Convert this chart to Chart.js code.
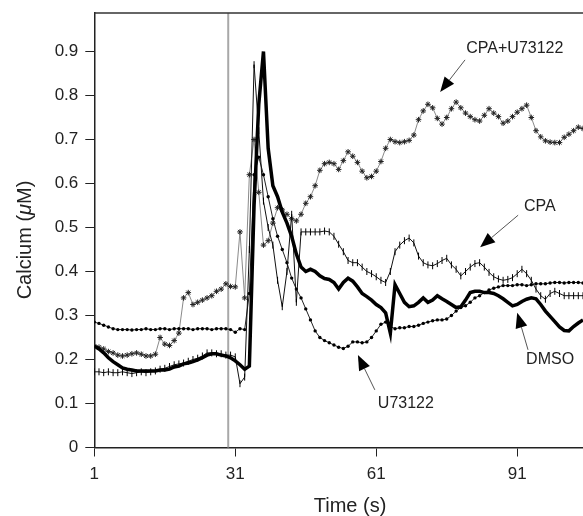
<!DOCTYPE html>
<html>
<head>
<meta charset="utf-8">
<script src="https://cdn.jsdelivr.net/npm/chart.js@4.4.1/dist/chart.umd.min.js"></script>
<style>
  html, body { margin: 0; padding: 0; background: #fff; }
  canvas { display: block; }
</style>
</head>
<body>
<canvas id="calciumChart" width="583" height="516"></canvas>
<script>
// time in seconds, one sample per second
const time = [
  1,2,3,4,5,6,7,8,9,10,11,12,13,14,15,16,17,18,19,20,
  21,22,23,24,25,26,27,28,29,30,31,32,33,34,35,36,37,38,39,40,
  41,42,43,44,45,46,47,48,49,50,51,52,53,54,55,56,57,58,59,60,
  61,62,63,64,65,66,67,68,69,70,71,72,73,74,75,76,77,78,79,80,
  81,82,83,84,85,86,87,88,89,90,91,92,93,94,95,96,97,98,99,100,
  101,102,103,104,105
];

// calcium, uM
const dmso = [
  0.231,0.224,0.215,0.204,0.195,0.188,0.181,0.178,0.176,0.174,
  0.174,0.174,0.174,0.174,0.176,0.176,0.178,0.183,0.185,0.19,
  0.192,0.195,0.199,0.204,0.21,0.213,0.213,0.21,0.208,0.204,
  0.197,0.188,0.178,0.185,0.55,0.78,0.90,0.68,0.595,0.57,
  0.535,0.51,0.48,0.44,0.41,0.40,0.405,0.40,0.39,0.384,
  0.382,0.375,0.36,0.375,0.385,0.378,0.365,0.35,0.343,0.335,
  0.325,0.318,0.306,0.26,0.37,0.35,0.33,0.32,0.322,0.33,
  0.34,0.33,0.335,0.345,0.338,0.332,0.325,0.318,0.32,0.335,
  0.352,0.355,0.355,0.352,0.352,0.35,0.345,0.338,0.33,0.322,
  0.325,0.332,0.337,0.34,0.338,0.325,0.31,0.298,0.286,0.274,
  0.266,0.265,0.275,0.283,0.29
];
const cpa = [
  0.172,0.172,0.17,0.172,0.17,0.17,0.172,0.17,0.168,0.17,
  0.172,0.17,0.172,0.174,0.178,0.18,0.184,0.188,0.19,0.192,
  0.196,0.2,0.203,0.208,0.215,0.215,0.213,0.213,0.21,0.21,
  0.206,0.145,0.16,0.45,0.87,0.72,0.56,0.50,0.46,0.38,
  0.32,0.40,0.53,0.33,0.49,0.49,0.49,0.49,0.49,0.492,
  0.49,0.48,0.462,0.445,0.425,0.42,0.42,0.41,0.40,0.395,
  0.388,0.38,0.375,0.40,0.445,0.46,0.47,0.476,0.465,0.435,
  0.42,0.415,0.413,0.418,0.425,0.43,0.415,0.405,0.39,0.40,
  0.41,0.418,0.42,0.41,0.398,0.388,0.383,0.38,0.382,0.386,
  0.395,0.405,0.395,0.38,0.36,0.345,0.337,0.35,0.355,0.35,
  0.345,0.345,0.345,0.345,0.345
];
const u73122 = [
  0.285,0.282,0.278,0.274,0.27,0.268,0.268,0.268,0.267,0.268,
  0.268,0.27,0.268,0.268,0.27,0.27,0.268,0.27,0.27,0.27,
  0.27,0.268,0.27,0.27,0.27,0.268,0.27,0.27,0.27,0.268,
  0.262,0.27,0.268,0.35,0.62,0.66,0.62,0.57,0.52,0.48,
  0.45,0.42,0.385,0.36,0.34,0.315,0.29,0.265,0.25,0.243,
  0.238,0.233,0.228,0.225,0.23,0.24,0.24,0.238,0.24,0.25,
  0.265,0.28,0.285,0.275,0.27,0.272,0.272,0.275,0.275,0.278,
  0.282,0.285,0.288,0.29,0.29,0.292,0.30,0.31,0.318,0.322,
  0.33,0.34,0.345,0.352,0.358,0.362,0.365,0.368,0.368,0.368,
  0.37,0.37,0.368,0.37,0.372,0.372,0.372,0.374,0.375,0.375,
  0.374,0.375,0.375,0.375,0.374
];
const cpaU73122 = [
  0.23,0.228,0.224,0.218,0.215,0.21,0.208,0.21,0.213,0.215,
  0.212,0.208,0.208,0.212,0.25,0.235,0.232,0.243,0.26,0.34,
  0.352,0.325,0.33,0.335,0.34,0.345,0.355,0.36,0.372,0.366,
  0.365,0.49,0.34,0.62,0.70,0.58,0.46,0.47,0.51,0.545,
  0.54,0.53,0.52,0.515,0.53,0.555,0.57,0.595,0.63,0.645,
  0.648,0.645,0.632,0.652,0.672,0.662,0.648,0.628,0.613,0.616,
  0.628,0.65,0.68,0.70,0.695,0.693,0.695,0.698,0.71,0.745,
  0.765,0.78,0.772,0.748,0.735,0.75,0.77,0.785,0.772,0.76,
  0.752,0.745,0.742,0.755,0.77,0.76,0.752,0.737,0.742,0.752,
  0.762,0.77,0.778,0.75,0.72,0.706,0.697,0.694,0.693,0.693,
  0.705,0.712,0.72,0.728,0.725
];

const xTicks = [1, 31, 61, 91];
const yTicks = [0, 0.1, 0.2, 0.3, 0.4, 0.5, 0.6, 0.7, 0.8, 0.9];
const stimTime = 29.5;

// label text, label position, arrow start, arrow tip (data units)
const notes = [
  { text: 'CPA+U73122', at: [90.5, 0.907], from: [79.9, 0.881], to: [74.6, 0.808] },
  { text: 'CPA',        at: [95.8, 0.547], from: [91.2, 0.528], to: [83.1, 0.455] },
  { text: 'U73122',     at: [67.3, 0.099], from: [60.7, 0.131], to: [57.1, 0.210] },
  { text: 'DMSO',       at: [98.0, 0.199], from: [93.3, 0.222], to: [91.0, 0.306] }
];

const pts = vals => time.map((t, i) => ({ x: t, y: vals[i] }));
const FONT = '"Liberation Sans", Arial, sans-serif';

const extras = {
  id: 'extras',
  beforeDatasetsDraw(chart) {
    const { ctx, chartArea: a, scales: { x } } = chart;
    const sx = x.getPixelForValue(stimTime);
    ctx.save();
    ctx.strokeStyle = '#a8a8a8';
    ctx.lineWidth = 2;
    ctx.beginPath();
    ctx.moveTo(sx, a.top);
    ctx.lineTo(sx, a.bottom);
    ctx.stroke();
    ctx.restore();
  },
  afterDraw(chart) {
    const { ctx, chartArea: a, scales: { x, y } } = chart;
    ctx.save();
    // top frame line
    ctx.strokeStyle = '#333';
    ctx.lineWidth = 1.5;
    ctx.beginPath();
    ctx.moveTo(a.left, a.top);
    ctx.lineTo(a.right, a.top);
    ctx.stroke();

    // arrows and labels
    ctx.font = '16px ' + FONT;
    ctx.textAlign = 'center';
    ctx.textBaseline = 'middle';
    notes.forEach(n => {
      ctx.fillStyle = '#222';
      ctx.fillText(n.text, x.getPixelForValue(n.at[0]), y.getPixelForValue(n.at[1]));
      const x0 = x.getPixelForValue(n.from[0]), y0 = y.getPixelForValue(n.from[1]);
      const x1 = x.getPixelForValue(n.to[0]), y1 = y.getPixelForValue(n.to[1]);
      const ang = Math.atan2(y1 - y0, x1 - x0);
      const hl = 15, hw = 6;
      const bx = x1 - hl * Math.cos(ang), by = y1 - hl * Math.sin(ang);
      ctx.strokeStyle = '#555';
      ctx.lineWidth = 1;
      ctx.beginPath();
      ctx.moveTo(x0, y0);
      ctx.lineTo(bx, by);
      ctx.stroke();
      ctx.fillStyle = '#000';
      ctx.beginPath();
      ctx.moveTo(x1, y1);
      ctx.lineTo(bx + hw * Math.sin(ang), by - hw * Math.cos(ang));
      ctx.lineTo(bx - hw * Math.sin(ang), by + hw * Math.cos(ang));
      ctx.closePath();
      ctx.fill();
    });

    // axis titles
    ctx.fillStyle = '#222';
    ctx.font = '20px ' + FONT;
    ctx.textAlign = 'center';
    ctx.textBaseline = 'alphabetic';
    ctx.fillText('Time (s)', 350, 512);

    ctx.translate(31, 240);
    ctx.rotate(-Math.PI / 2);
    const parts = [['Calcium (', ''], ['\u03bc', 'italic '], ['M)', '']];
    let total = 0;
    parts.forEach(p => { ctx.font = p[1] + '20px ' + FONT; total += ctx.measureText(p[0]).width; });
    let px = -total / 2;
    ctx.textAlign = 'left';
    parts.forEach(p => {
      ctx.font = p[1] + '20px ' + FONT;
      ctx.fillText(p[0], px, 0);
      px += ctx.measureText(p[0]).width;
    });
    ctx.restore();
  }
};

const ctx = document.getElementById('calciumChart').getContext('2d');
const calciumChart = new Chart(ctx, {
  type: 'line',
  data: {
    datasets: [
      {
        label: 'DMSO',
        data: pts(dmso),
        borderColor: '#000',
        borderWidth: 3.5,
        pointRadius: 0,
        tension: 0
      },
      {
        label: 'CPA',
        data: pts(cpa),
        borderColor: '#111',
        borderWidth: 1,
        pointStyle: 'line',
        rotation: 90,
        pointRadius: 3.5,
        pointBorderWidth: 1,
        pointBorderColor: '#000',
        tension: 0
      },
      {
        label: 'U73122',
        data: pts(u73122),
        borderColor: '#222',
        borderWidth: 1,
        pointStyle: 'circle',
        pointRadius: 1.7,
        pointBorderWidth: 0,
        pointBackgroundColor: '#000',
        tension: 0
      },
      {
        label: 'CPA+U73122',
        data: pts(cpaU73122),
        borderColor: '#8a8a8a',
        borderWidth: 1,
        pointStyle: 'star',
        pointRadius: 2.8,
        pointBorderWidth: 1,
        pointBorderColor: '#222',
        tension: 0
      }
    ]
  },
  options: {
    responsive: false,
    animation: false,
    events: [],
    layout: { autoPadding: false, padding: { top: 13, right: 0, left: 0, bottom: 0 } },
    plugins: { legend: { display: false }, tooltip: { enabled: false } },
    scales: {
      x: {
        type: 'linear',
        min: 1,
        max: 105,
        afterBuildTicks: s => { s.ticks = xTicks.map(v => ({ value: v })); },
        afterFit: s => { s.height = 68.5; },
        grid: { drawOnChartArea: false, drawTicks: true, tickLength: 9, color: '#222', lineWidth: 1 },
        border: { color: '#222', width: 1.5 },
        ticks: { color: '#222', font: { family: FONT, size: 17 }, padding: 8, maxRotation: 0, callback: v => String(v) }
      },
      y: {
        min: 0,
        max: 0.9875,
        afterBuildTicks: s => { s.ticks = yTicks.map(v => ({ value: v })); },
        afterFit: s => { s.width = 94.3; },
        grid: { drawOnChartArea: false, drawTicks: true, tickLength: 9, color: '#222', lineWidth: 1 },
        border: { color: '#222', width: 1.5 },
        ticks: { color: '#222', font: { family: FONT, size: 17, lineHeight: 0.7 }, padding: 7, callback: v => String(v) }
      }
    }
  },
  plugins: [extras]
});
</script>
</body>
</html>
